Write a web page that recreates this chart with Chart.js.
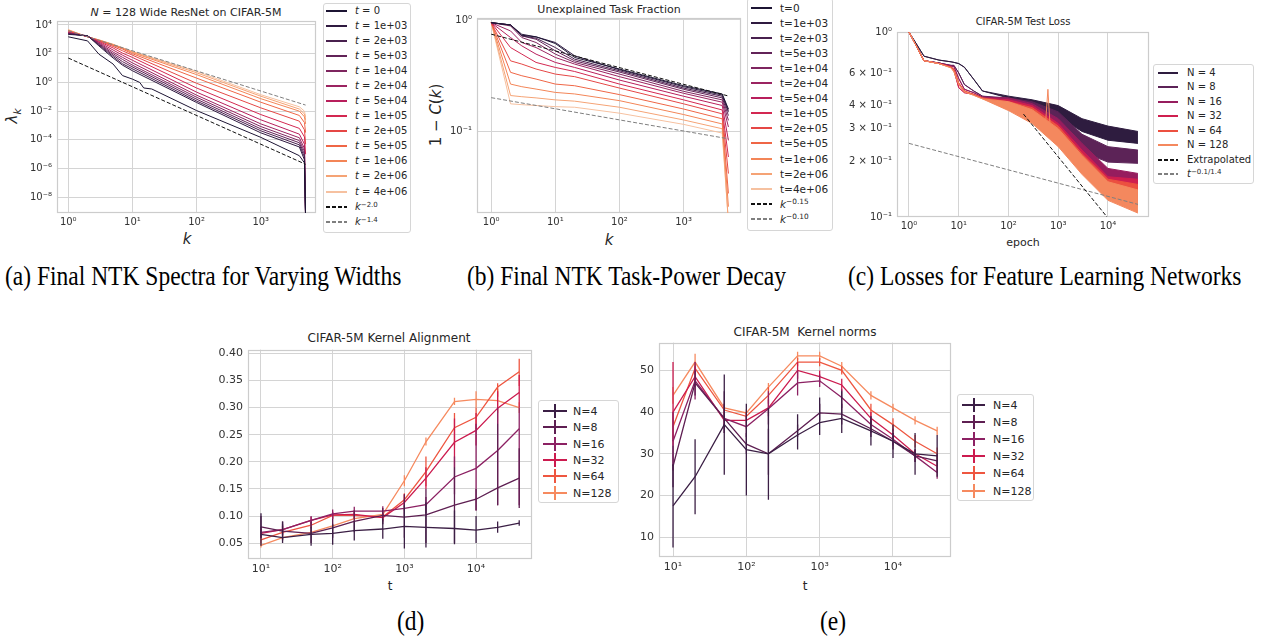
<!DOCTYPE html>
<html lang="en">
<head>
<meta charset="UTF-8">
<title>NTK spectra, task power, losses, alignment and kernel norms</title>
<script src="https://cdn.jsdelivr.net/npm/chart.js"></script>
<style>
    body {
        margin: 0;
        width: 1264px;
        height: 640px;
        position: relative;
        overflow: hidden;
        background: #ffffff;
        font-family: 'DejaVu Sans', sans-serif;
        color: #262626;
    }
    canvas { position: absolute; }
    .txt {
        position: absolute;
        white-space: nowrap;
        line-height: 1;
        transform: translate(-50%, -50%);
    }
    .rot { transform: translate(-50%, -50%) rotate(-90deg); }
    .cap {
        position: absolute;
        white-space: nowrap;
        line-height: 1;
        font-family: 'Liberation Serif', serif;
        font-size: 23.5px;
        color: #000000;
        transform: translateY(-50%) scaleY(1.15);
    }
    .legend {
        position: absolute;
        background: #ffffff;
        border: 1px solid #d6d6d6;
        border-radius: 3px;
        box-sizing: border-box;
    }
    .row {
        position: absolute;
        white-space: nowrap;
        line-height: 1;
        transform: translateY(-50%);
    }
    .sw { position: absolute; }
    sup { font-size: 0.7em; vertical-align: 0.5em; line-height: 0; }
</style>
</head>
<body>

<!-- titles and axis labels -->
<div class="txt" style="left:186px; top:12px; font-size:11px;"><i>N</i> = 128 Wide ResNet on CIFAR-5M</div>
<div class="txt rot" style="left:14px; top:116px; font-size:15px;"><i>λ<sub style="font-size:0.7em">k</sub></i></div>
<div class="txt" style="left:187px; top:239px; font-size:15px;"><i>k</i></div>

<div class="txt" style="left:609px; top:9px; font-size:11px;">Unexplained Task Fraction</div>
<div class="txt rot" style="left:436px; top:115px; font-size:15px;">1 − <i>C</i>(<i>k</i>)</div>
<div class="txt" style="left:609px; top:240px; font-size:15px;"><i>k</i></div>

<div class="txt" style="left:1023px; top:22px; font-size:10px;">CIFAR-5M Test Loss</div>
<div class="txt" style="left:1023px; top:242px; font-size:11px;">epoch</div>

<div class="txt" style="left:389px; top:338px; font-size:12px;">CIFAR-5M Kernel Alignment</div>
<div class="txt" style="left:390px; top:586px; font-size:12px;">t</div>

<div class="txt" style="left:805px; top:332px; font-size:12px;">CIFAR-5M &nbsp;Kernel norms</div>
<div class="txt" style="left:805px; top:586px; font-size:12px;">t</div>

<!-- captions -->
<div class="cap" style="left:5px; top:277px;">(a) Final NTK Spectra for Varying Widths</div>
<div class="cap" style="left:467px; top:277px;">(b) Final NTK Task-Power Decay</div>
<div class="cap" style="left:848px; top:277px;">(c) Losses for Feature Learning Networks</div>
<div class="cap" style="left:397px; top:622px;">(d)</div>
<div class="cap" style="left:820px; top:622px;">(e)</div>

<canvas id="chartA"></canvas>
<canvas id="chartB"></canvas>
<canvas id="chartC"></canvas>
<canvas id="chartD"></canvas>
<canvas id="chartE"></canvas>

<script>
    // ---------- (a) final NTK spectra ----------
    const tLabels = ['0', '1e+03', '2e+03', '5e+03', '1e+04', '2e+04', '5e+04',
                     '1e+05', '2e+05', '5e+05', '1e+06', '2e+06', '4e+06'];
    const aK0 = [1, 2, 3, 5, 7, 10, 13, 15, 20, 100, 1000, 4000, 4800, 5000];
    const aSpecT0 = [1.5e3, 7.8e2, 93, 19, 3.0, 1.7, 1.0, 0.41, 0.35, 1.1e-2, 1.5e-4, 7.9e-6, 2.5e-6, 3e-10];
    const aK = [1, 2, 3, 5, 7, 10, 100, 1000, 4000, 4800, 5000];
    // t = 1e3 ... 4e6
    const aSpectra = [
        [2.2e3, 1.8e3, 3.5e2, 50, 16, 6.5, 4.0e-2, 3.1e-4, 3.2e-5, 4.0e-6, 3e-10],
        [2.4e3, 1.8e3, 4.0e2, 63, 20, 8.9, 5.1e-2, 4.3e-4, 4.5e-5, 6.3e-6, 3e-10],
        [2.5e3, 1.7e3, 4.5e2, 79, 28, 12, 6.8e-2, 5.9e-4, 6.3e-5, 1.0e-5, 3e-10],
        [2.6e3, 1.7e3, 5.0e2, 1.0e2, 40, 16, 9.3e-2, 8.5e-4, 8.9e-5, 1.6e-5, 3e-10],
        [2.8e3, 1.7e3, 5.6e2, 1.3e2, 56, 23, 0.13, 1.3e-3, 1.4e-4, 2.5e-5, 3e-10],
        [3.0e3, 1.6e3, 6.3e2, 1.8e2, 79, 35, 0.21, 2.5e-3, 2.5e-4, 5.0e-5, 3e-10],
        [3.1e3, 1.6e3, 7.1e2, 2.5e2, 1.1e2, 55, 0.41, 5.8e-3, 6.3e-4, 1.6e-4, 1.0e-5],
        [3.5e3, 1.55e3, 7.9e2, 3.2e2, 1.6e2, 79, 0.87, 1.7e-2, 2.0e-3, 5.0e-4, 5.0e-5],
        [3.8e3, 1.5e3, 8.5e2, 3.8e2, 2.1e2, 1.0e2, 2.0, 4.2e-2, 5.0e-3, 1.6e-3, 3.2e-4],
        [4.3e3, 1.5e3, 8.9e2, 4.2e2, 2.4e2, 1.2e2, 3.5, 7.4e-2, 1.0e-2, 4.0e-3, 1.3e-3],
        [4.5e3, 1.5e3, 9.1e2, 4.4e2, 2.5e2, 1.35e2, 4.7, 0.11, 1.4e-2, 6.3e-3, 2.5e-3],
        [4.8e3, 1.45e3, 9.3e2, 4.6e2, 2.6e2, 1.4e2, 5.9, 0.14, 2.0e-2, 1.0e-2, 4.0e-3]
    ];
    const aRefK = [1, 5000];
    const aRefSteep = [50, 2.0e-6];      // k^-2.0
    const aRefFlat = [4000, 2.65e-2];    // k^-1.4
    const aTicksX = [1, 10, 100, 1000];
    const aTicksY = [1e-8, 1e-6, 1e-4, 1e-2, 1, 1e2, 1e4];

    // ---------- (b) unexplained task fraction ----------
    const bK = [1, 2, 3, 5, 10, 20, 100, 1000, 4000, 5000];
    // t = 0 ... 4e6
    const bFrac = [
        [0.946, 0.902, 0.729, 0.705, 0.614, 0.460, 0.362, 0.256, 0.216, 0.158],
        [0.946, 0.902, 0.744, 0.705, 0.627, 0.476, 0.357, 0.251, 0.211, 0.153],
        [0.946, 0.902, 0.719, 0.686, 0.565, 0.444, 0.349, 0.244, 0.206, 0.148],
        [0.946, 0.902, 0.719, 0.671, 0.528, 0.429, 0.340, 0.238, 0.199, 0.138],
        [0.946, 0.884, 0.695, 0.627, 0.493, 0.415, 0.326, 0.228, 0.191, 0.125],
        [0.946, 0.797, 0.627, 0.565, 0.460, 0.401, 0.309, 0.219, 0.182, 0.109],
        [0.946, 0.695, 0.585, 0.493, 0.415, 0.374, 0.288, 0.206, 0.170, 0.0825],
        [0.946, 0.565, 0.493, 0.415, 0.374, 0.344, 0.265, 0.191, 0.155, 0.0585],
        [0.946, 0.429, 0.401, 0.362, 0.326, 0.309, 0.244, 0.176, 0.143, 0.0415],
        [0.946, 0.338, 0.315, 0.294, 0.265, 0.256, 0.213, 0.158, 0.129, 0.0275],
        [0.946, 0.265, 0.251, 0.239, 0.223, 0.216, 0.188, 0.141, 0.116, 0.0209],
        [0.946, 0.209, 0.204, 0.199, 0.191, 0.186, 0.164, 0.126, 0.105, 0.015],
        [0.946, 0.176, 0.173, 0.170, 0.166, 0.164, 0.145, 0.115, 0.096, 0.015]
    ];
    const bRefK = [1, 5000];
    const bRefSteep = [0.745, 0.207];   // k^-0.15
    const bRefFlat = [0.2, 0.0853];     // k^-0.10
    const bTicksY = [0.1, 1];

    // ---------- (c) test loss ----------
    const widths = [4, 8, 16, 32, 64, 128];
    const cEpoch = [1, 2, 4, 7, 8, 10, 13, 20, 30, 100, 300, 1000, 3000, 10000, 40000];
    const cUpper = [
        [1, 0.74, 0.705, 0.69, 0.685, 0.675, 0.645, 0.555, 0.48, 0.45, 0.43, 0.40, 0.34, 0.31, 0.29],
        [1, 0.70, 0.68, 0.66, 0.66, 0.60, 0.52, 0.48, 0.45, 0.44, 0.42, 0.37, 0.28, 0.24, 0.23],
        [1, 0.70, 0.68, 0.655, 0.65, 0.56, 0.49, 0.47, 0.445, 0.44, 0.41, 0.34, 0.25, 0.183, 0.172],
        [1, 0.70, 0.675, 0.65, 0.62, 0.50, 0.47, 0.46, 0.44, 0.43, 0.40, 0.32, 0.23, 0.165, 0.16],
        [1, 0.70, 0.675, 0.645, 0.63, 0.53, 0.48, 0.46, 0.44, 0.42, 0.39, 0.31, 0.22, 0.16, 0.15],
        [1, 0.70, 0.675, 0.64, 0.61, 0.52, 0.475, 0.455, 0.435, 0.42, 0.38, 0.30, 0.215, 0.155, 0.14]
    ];
    const cLower = [
        [1, 0.74, 0.705, 0.69, 0.685, 0.675, 0.645, 0.555, 0.48, 0.44, 0.405, 0.35, 0.29, 0.26, 0.25],
        [1, 0.70, 0.68, 0.66, 0.66, 0.60, 0.52, 0.48, 0.45, 0.41, 0.39, 0.30, 0.225, 0.198, 0.195],
        [1, 0.70, 0.68, 0.655, 0.65, 0.56, 0.49, 0.47, 0.445, 0.40, 0.36, 0.27, 0.20, 0.153, 0.14],
        [1, 0.70, 0.675, 0.65, 0.62, 0.50, 0.47, 0.46, 0.44, 0.39, 0.34, 0.26, 0.185, 0.135, 0.125],
        [1, 0.70, 0.675, 0.645, 0.63, 0.53, 0.48, 0.46, 0.44, 0.38, 0.33, 0.25, 0.175, 0.128, 0.115],
        [1, 0.70, 0.675, 0.64, 0.61, 0.52, 0.475, 0.455, 0.435, 0.376, 0.32, 0.24, 0.17, 0.123, 0.105]
    ];
    const cSpikeEpoch = [560, 620, 680];
    const cSpikeLoss = [0.33, 0.49, 0.32];
    const cExtrapEpoch = [200, 10500];
    const cExtrapLoss = [0.36, 0.097];
    const cPowEpoch = [1, 40000];
    const cPowLoss = [0.25, 0.117];
    const cTicksX = [1, 10, 100, 1000, 10000];
    const cTicksY = [0.1, 0.2, 0.3, 0.4, 0.6, 1];
    const cTickLabelsY = ['10⁻¹', '2 × 10⁻¹', '3 × 10⁻¹', '4 × 10⁻¹', '6 × 10⁻¹', '10⁰'];

    // ---------- (d) kernel alignment ----------
    const steps = [10, 20, 50, 100, 200, 500, 1000, 2000, 5000, 10000, 20000, 40000];
    const dAlign = [
        [0.066, 0.060, 0.066, 0.068, 0.073, 0.076, 0.081, 0.079, 0.077, 0.074, 0.079, 0.087],
        [0.080, 0.072, 0.068, 0.078, 0.090, 0.101, 0.098, 0.102, 0.120, 0.131, 0.152, 0.170],
        [0.070, 0.075, 0.092, 0.104, 0.109, 0.109, 0.114, 0.121, 0.172, 0.188, 0.221, 0.261],
        [0.068, 0.075, 0.092, 0.102, 0.103, 0.097, 0.125, 0.170, 0.236, 0.258, 0.299, 0.328],
        [0.056, 0.070, 0.083, 0.101, 0.101, 0.098, 0.130, 0.182, 0.263, 0.282, 0.338, 0.366],
        [0.046, 0.060, 0.070, 0.082, 0.095, 0.103, 0.165, 0.237, 0.311, 0.315, 0.313, 0.300]
    ];
    const dLo = [
        [0.045, 0.050, 0.045, 0.047, 0.055, 0.058, 0.040, 0.042, 0.048, 0.050, 0.069, 0.082],
        [0.060, 0.055, 0.050, 0.060, 0.070, 0.085, 0.060, 0.050, 0.050, 0.110, 0.120, 0.115],
        [0.060, 0.065, 0.080, 0.095, 0.100, 0.100, 0.100, 0.105, 0.140, 0.110, 0.120, 0.120],
        [0.060, 0.068, 0.085, 0.095, 0.095, 0.090, 0.110, 0.150, 0.190, 0.230, 0.270, 0.300],
        [0.050, 0.064, 0.077, 0.095, 0.095, 0.093, 0.120, 0.155, 0.230, 0.260, 0.320, 0.340],
        [0.042, 0.056, 0.066, 0.078, 0.090, 0.099, 0.155, 0.230, 0.305, 0.300, 0.290, 0.290]
    ];
    const dHi = [
        [0.105, 0.090, 0.080, 0.085, 0.090, 0.095, 0.120, 0.125, 0.110, 0.100, 0.090, 0.092],
        [0.100, 0.090, 0.090, 0.095, 0.110, 0.115, 0.140, 0.150, 0.190, 0.150, 0.270, 0.225],
        [0.080, 0.085, 0.100, 0.112, 0.117, 0.118, 0.130, 0.135, 0.210, 0.270, 0.300, 0.300],
        [0.076, 0.082, 0.098, 0.108, 0.110, 0.105, 0.140, 0.190, 0.280, 0.290, 0.330, 0.360],
        [0.062, 0.076, 0.090, 0.106, 0.107, 0.104, 0.142, 0.210, 0.290, 0.300, 0.345, 0.390],
        [0.050, 0.064, 0.074, 0.086, 0.100, 0.107, 0.175, 0.245, 0.318, 0.330, 0.335, 0.310]
    ];
    const dTicksY = [0.05, 0.10, 0.15, 0.20, 0.25, 0.30, 0.35, 0.40];
    const logTicks = [10, 100, 1000, 10000];

    // ---------- (e) kernel norms ----------
    const eNorm = [
        [17.5, 24.5, 37.0, 31.0, 30.0, 34.5, 37.5, 38.5, 35.5, 33.0, 30.0, 29.5],
        [27.0, 47.0, 38.5, 32.3, 30.0, 35.5, 39.8, 39.5, 36.0, 33.0, 29.5, 28.3],
        [33.0, 47.5, 38.5, 36.5, 40.8, 47.0, 47.5, 43.5, 37.0, 33.5, 29.5, 25.5],
        [40.0, 48.5, 38.0, 38.0, 41.0, 50.0, 48.5, 46.5, 38.5, 34.5, 30.0, 27.0],
        [36.5, 50.5, 40.5, 39.0, 44.0, 52.0, 52.0, 50.0, 40.5, 37.0, 33.0, 30.0],
        [44.0, 52.0, 41.0, 39.8, 46.0, 53.5, 53.5, 51.0, 44.0, 41.0, 38.0, 35.5]
    ];
    const eLo = [
        [7.5, 15.5, 25, 20, 19, 31, 34.5, 35, 32, 29, 25, 24.5],
        [22, 44, 35, 30, 25, 34, 38, 37, 34, 31, 28, 27],
        [26, 43, 35, 34, 37, 44, 46, 41, 35, 32, 28, 24],
        [32, 46, 36, 36, 39, 48, 47, 45, 37, 33, 29, 25.5],
        [33, 49, 39, 38, 42, 51, 51, 49, 39, 35.5, 31.5, 28.5],
        [42, 50, 40, 39, 45, 52.5, 52.5, 49.5, 43, 40, 37, 34.5]
    ];
    const eHi = [
        [27.5, 33.5, 49, 42, 41, 39.5, 43.5, 45, 39, 37, 35, 34.5],
        [32, 50, 45, 35, 36, 37, 42, 42, 38, 35, 31, 30],
        [40, 52, 42, 39, 45, 50, 49, 45.5, 39, 35, 31, 27],
        [52, 51, 40, 40, 43, 52, 50, 48, 40, 36, 31, 28.5],
        [40, 52, 42, 40, 46, 53, 53, 51, 42, 38.5, 34.5, 31.5],
        [46, 54, 42, 40.6, 47, 54.5, 54.5, 52, 45, 42, 39, 36.5]
    ];
    const eTicksY = [10, 20, 30, 40, 50];

    // palettes (rocket-like)
    const tColors = ['#1c1433', '#2f1a40', '#48204e', '#622358', '#7e255f', '#9b2461', '#b81f5c',
                     '#d32851', '#e54745', '#ef6646', '#f38557', '#f5a375', '#f6c1a0'];
    const cColors = ['#2e1c3f', '#5c2357', '#961d5e', '#cf1f4f', '#ec5040', '#f4885e'];
    const nColors = ['#3b1f45', '#5e1f52', '#8c2163', '#cc1b4f', '#ee5640', '#f68a5f'];

    // ---------- helpers ----------
    const SUP = {'-': '⁻', '0': '⁰', '1': '¹', '2': '²', '3': '³', '4': '⁴', '5': '⁵', '6': '⁶', '7': '⁷', '8': '⁸', '9': '⁹'};
    const pow10 = v => '10' + String(Math.round(Math.log10(v))).split('').map(c => SUP[c]).join('');
    const pts = (xs, ys) => xs.map((x, i) => ({x: x, y: ys[i]}));
    // vertical error bars as broken line segments
    const errPts = (xs, lo, hi) => {
        const out = [];
        xs.forEach((x, i) => { out.push({x: x, y: lo[i]}, {x: x, y: hi[i]}, {x: x, y: null}); });
        return out;
    };

    // light grey frame round the plot area (seaborn whitegrid look)
    const frame = {
        id: 'frame',
        beforeDatasetsDraw(chart) {
            const a = chart.chartArea, c = chart.ctx;
            c.save();
            c.strokeStyle = '#cccccc';
            c.lineWidth = 1.2;
            c.strokeRect(Math.round(a.left) + 0.5, Math.round(a.top) + 0.5,
                         Math.round(a.right - a.left) - 1, Math.round(a.bottom - a.top) - 1);
            c.restore();
        }
    };

    function axis(type, min, max, ticks, fmt, size, pad, grid) {
        return {
            type: type, min: min, max: max,
            afterBuildTicks: s => { s.ticks = ticks.map(v => ({value: v})); },
            ticks: {
                callback: (v, i) => fmt(v, i),
                color: '#333333',
                font: {family: 'DejaVu Sans', size: size},
                padding: pad, autoSkip: false, maxRotation: 0
            },
            grid: {display: grid, color: '#d4d4d4', lineWidth: 1, drawTicks: false},
            border: {display: false}
        };
    }

    // area = [left, top, right, bottom] of the plot area on the page
    function makeChart(id, area, axisW, axisH, xs, ys, datasets) {
        const cv = document.getElementById(id);
        const left = area[0] - axisW, top = area[1] - 10;
        const w = area[2] + 10 - left, h = area[3] + axisH - top;
        cv.width = w; cv.height = h;
        cv.style.left = left + 'px'; cv.style.top = top + 'px';
        cv.style.width = w + 'px'; cv.style.height = h + 'px';
        xs.afterFit = s => { s.height = axisH; };
        ys.afterFit = s => { s.width = axisW; };
        return new Chart(cv, {
            type: 'line',
            data: {datasets: datasets},
            options: {
                responsive: false,
                animation: false,
                events: [],
                layout: {padding: {top: 10, right: 10, left: 0, bottom: 0}},
                elements: {point: {radius: 0}, line: {tension: 0}},
                plugins: {legend: {display: false}, tooltip: {enabled: false}},
                scales: {x: xs, y: ys}
            },
            plugins: [frame]
        });
    }

    function line(data, color, width, dash) {
        return {data: data, borderColor: color, borderWidth: width || 1, borderDash: dash || [], fill: false};
    }

    // ---------- chart (a) ----------
    const aSets = [line(pts(aRefK, aRefSteep), '#111111', 1, [4, 2]),
                   line(pts(aRefK, aRefFlat), '#7f7f7f', 1, [4, 2]),
                   line(pts(aK0, aSpecT0), tColors[0], 1)];
    aSpectra.forEach((s, i) => aSets.push(line(pts(aK, s), tColors[i + 1], 1)));
    makeChart('chartA', [57, 20, 316, 213], 45, 22,
        axis('logarithmic', 0.668, 7260, aTicksX, pow10, 10, 3, true),
        axis('logarithmic', 8.1e-10, 1.89e4, aTicksY, pow10, 10, 5, true),
        aSets);

    // ---------- chart (b) ----------
    const bSets = [line(pts(bRefK, bRefSteep), '#111111', 1, [4, 2]),
                   line(pts(bRefK, bRefFlat), '#7f7f7f', 1, [4, 2])];
    bFrac.forEach((s, i) => bSets.push(line(pts(bK, s), tColors[i], 1)));
    makeChart('chartB', [477, 17, 741, 213], 37, 22,
        axis('logarithmic', 0.629, 7850, aTicksX, pow10, 10, 3, true),
        axis('logarithmic', 0.01833, 1.042, bTicksY, pow10, 10, 5, true),
        bSets);

    // ---------- chart (c) ----------
    const cSets = [];
    widths.forEach((n, i) => {
        const u = line(pts(cEpoch, cUpper[i]), cColors[i], 1);
        u.order = 20 - i * 2;
        const l = line(pts(cEpoch, cLower[i]), cColors[i], 1);
        l.fill = '-1';
        l.backgroundColor = cColors[i];
        l.order = 20 - i * 2;
        cSets.push(u, l);
    });
    const spike = line(pts(cSpikeEpoch, cSpikeLoss), cColors[5], 1);
    spike.order = 2;
    const extrap = line(pts(cExtrapEpoch, cExtrapLoss), '#111111', 1, [4, 2]);
    extrap.order = 0;
    const powLine = line(pts(cPowEpoch, cPowLoss), '#7f7f7f', 1, [4, 2]);
    powLine.order = 0;
    cSets.push(spike, extrap, powLine);
    makeChart('chartC', [897, 31, 1149, 217], 52, 22,
        axis('logarithmic', 0.574, 66700, cTicksX, pow10, 10, 3, true),
        axis('logarithmic', 0.1, 1, cTicksY, (v, i) => cTickLabelsY[i], 10, 5, false),
        cSets);

    // ---------- charts (d) and (e) ----------
    function errSets(values, lo, hi, colors) {
        const sets = [];
        values.forEach((v, i) => {
            sets.push(line(pts(steps, v), colors[i], 1.3));
            const e = line(errPts(steps, lo[i], hi[i]), colors[i], 1.3);
            e.spanGaps = false;
            sets.push(e);
        });
        return sets;
    }
    makeChart('chartD', [248, 348, 532, 559], 36, 24,
        axis('logarithmic', 6.59, 60300, logTicks, pow10, 11, 4, true),
        axis('linear', 0.0207, 0.407, dTicksY, v => v.toFixed(2), 11, 5, true),
        errSets(dAlign, dLo, dHi, nColors));
    makeChart('chartE', [659, 341, 951, 557], 29, 24,
        axis('logarithmic', 6.44, 61800, logTicks, pow10, 11, 4, true),
        axis('linear', 5.24, 56.67, eTicksY, v => String(v), 11, 5, true),
        errSets(eNorm, eLo, eHi, nColors));

    // ---------- legends ----------
    function legend(box, rows, o) {
        const d = document.createElement('div');
        d.className = 'legend';
        d.style.left = box[0] + 'px';
        d.style.top = box[1] + 'px';
        d.style.width = (box[2] - box[0]) + 'px';
        d.style.height = (box[3] - box[1]) + 'px';
        document.body.appendChild(d);
        rows.forEach((r, i) => {
            const y = Math.round(o.y0 + i * o.step);
            const sw = document.createElement('div');
            sw.className = 'sw';
            sw.style.left = o.x0 + 'px';
            sw.style.top = (y - 1) + 'px';
            sw.style.width = (o.x1 - o.x0) + 'px';
            sw.style.height = '1.5px';
            sw.style.background = r.dash
                ? 'repeating-linear-gradient(90deg, ' + r.color + ' 0 4px, transparent 4px 6px)'
                : r.color;
            document.body.appendChild(sw);
            if (o.errbar) {
                const eb = document.createElement('div');
                eb.className = 'sw';
                eb.style.left = Math.round((o.x0 + o.x1) / 2 - 1) + 'px';
                eb.style.top = (y - 7) + 'px';
                eb.style.width = '1.5px';
                eb.style.height = '14px';
                eb.style.background = r.color;
                document.body.appendChild(eb);
            }
            const t = document.createElement('div');
            t.className = 'row';
            t.style.left = o.tx + 'px';
            t.style.top = y + 'px';
            t.style.fontSize = o.size + 'px';
            t.innerHTML = r.label;
            document.body.appendChild(t);
        });
    }

    const aRows = tLabels.map((t, i) => ({label: '<i>t</i> = ' + t, color: tColors[i]}));
    aRows.push({label: '<i>k</i><sup>−2.0</sup>', color: '#111111', dash: true},
               {label: '<i>k</i><sup>−1.4</sup>', color: '#7f7f7f', dash: true});
    legend([323, 3, 411, 233], aRows, {y0: 10.7, step: 15.07, x0: 326, x1: 347, tx: 355, size: 10});

    const bRows = tLabels.map((t, i) => ({label: 't=' + t, color: tColors[i]}));
    bRows.push({label: '<i>k</i><sup>−0.15</sup>', color: '#111111', dash: true},
               {label: '<i>k</i><sup>−0.10</sup>', color: '#7f7f7f', dash: true});
    legend([747, -2, 833, 231], bRows, {y0: 7.5, step: 15.1, x0: 751, x1: 772, tx: 780, size: 10.5});

    const cRows = widths.map((n, i) => ({label: 'N = ' + n, color: cColors[i]}));
    cRows.push({label: 'Extrapolated', color: '#111111', dash: true},
               {label: '<i>t</i><sup>−0.1/1.4</sup>', color: '#7f7f7f', dash: true});
    legend([1153, 64, 1254, 184], cRows, {y0: 72.7, step: 14.47, x0: 1158, x1: 1178, tx: 1187, size: 10});

    const nRows = widths.map((n, i) => ({label: 'N=' + n, color: nColors[i]}));
    legend([538, 400, 619, 503], nRows, {y0: 410.7, step: 16.4, x0: 543, x1: 567, tx: 573, size: 11, errbar: true});
    legend([957, 394, 1034, 501], nRows, {y0: 405, step: 17.1, x0: 962, x1: 985, tx: 993, size: 11, errbar: true});
</script>
</body>
</html>
